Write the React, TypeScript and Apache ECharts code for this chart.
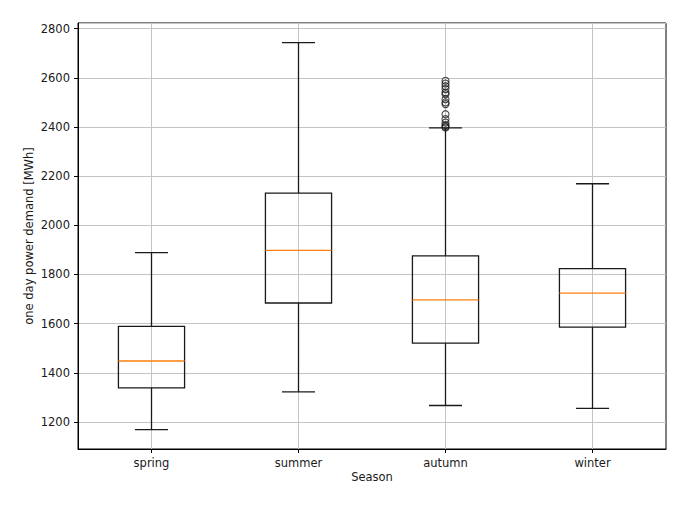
import React, { useEffect, useRef } from "react";
import * as echarts from "echarts";

const categories = ["spring", "summer", "autumn", "winter"];
const whiskerLow = [1169, 1322, 1267, 1255];
const q1 = [1339, 1684, 1521, 1586];
const median = [1448, 1898, 1697, 1724];
const q3 = [1589, 2131, 1876, 1824];
const whiskerHigh = [1889, 2743, 2396, 2169];
const autumnOutliers = [2588, 2577, 2566, 2554, 2540, 2533, 2513, 2500, 2493, 2452, 2432, 2418, 2408, 2402, 2398];

const FONT = "DejaVu Sans";
const TEXT = "#1a1a1a";
const FS = 11.5;

export default function App() {
  const ref = useRef<HTMLDivElement>(null);
  useEffect(() => {
    if (!ref.current) return;
    const chart = echarts.init(ref.current, undefined, { renderer: "svg" });
    const boxData = categories.map((c, i) => [i, whiskerLow[i], q1[i], median[i], q3[i], whiskerHigh[i]]);
    const gridData = categories.map((c, i) => [i, 2000]);
    const st = { stroke: "#1a1a1a", lineWidth: 1.3, fill: "none" };
    chart.setOption({
      animation: false,
      grid: {
        left: 78,
        right: 23,
        top: 23,
        bottom: 58,
        show: true,
        borderColor: "#000",
        borderWidth: 1,
        backgroundColor: "transparent",
      },
      xAxis: {
        type: "category",
        data: categories,
        name: "Season",
        nameLocation: "middle",
        nameGap: 22,
        nameMoveOverlap: false,
        nameTextStyle: { fontFamily: FONT, fontSize: FS, color: TEXT },
        axisLine: { show: true, lineStyle: { color: "#000", width: 1 } },
        axisTick: { show: true, alignWithLabel: true, length: 4, lineStyle: { color: "#000" } },
        axisLabel: { fontFamily: FONT, fontSize: FS, color: TEXT, margin: 8 },
        splitLine: { show: false },
      },
      yAxis: {
        type: "value",
        min: 1090,
        max: 2823,
        splitNumber: 8,
        name: "one day power demand [MWh]",
        nameLocation: "middle",
        nameGap: 43,
        nameMoveOverlap: false,
        nameTextStyle: { fontFamily: FONT, fontSize: FS, color: TEXT },
        axisLine: { show: true, lineStyle: { color: "#000", width: 1 } },
        axisTick: { show: true, length: 4, lineStyle: { color: "#000" } },
        axisLabel: {
          fontFamily: FONT,
          fontSize: FS,
          color: TEXT,
          margin: 8,
          showMinLabel: false,
          showMaxLabel: false,
          formatter: (v: number) => String(Math.round(v)),
        },
        splitLine: { show: true, lineStyle: { color: "#c4c4c4", width: 1 } },
      },
      series: [
        {
          type: "custom",
          z: 1,
          silent: true,
          data: gridData,
          encode: { x: 0, y: 1 },
          renderItem: (params: any, api: any) => {
            const x = api.coord([api.value(0), api.value(1)])[0];
            const cs = params.coordSys;
            return {
              type: "line",
              shape: { x1: x, y1: cs.y, x2: x, y2: cs.y + cs.height },
              style: { stroke: "#c4c4c4", lineWidth: 1 },
            };
          },
        },
        {
          type: "custom",
          z: 3,
          data: boxData,
          encode: { x: 0, y: [1, 2, 3, 4, 5] },
          renderItem: (params: any, api: any) => {
            const i = api.value(0);
            const lo = api.coord([i, api.value(1)]);
            const b1 = api.coord([i, api.value(2)]);
            const m = api.coord([i, api.value(3)]);
            const b3 = api.coord([i, api.value(4)]);
            const hi = api.coord([i, api.value(5)]);
            const band = api.size([1, 0])[0];
            const w = band * 0.45;
            const cw = w / 2;
            const x = lo[0];
            return {
              type: "group",
              children: [
                { type: "line", shape: { x1: x, y1: lo[1], x2: x, y2: b1[1] }, style: st },
                { type: "line", shape: { x1: x, y1: b3[1], x2: x, y2: hi[1] }, style: st },
                { type: "line", shape: { x1: x - cw / 2, y1: lo[1], x2: x + cw / 2, y2: lo[1] }, style: st },
                { type: "line", shape: { x1: x - cw / 2, y1: hi[1], x2: x + cw / 2, y2: hi[1] }, style: st },
                { type: "rect", shape: { x: x - w / 2, y: b3[1], width: w, height: b1[1] - b3[1] }, style: st },
                { type: "line", shape: { x1: x - w / 2, y1: m[1], x2: x + w / 2, y2: m[1] }, style: { stroke: "#ff7f0e", lineWidth: 1.3 } },
              ],
            };
          },
        },
        {
          type: "scatter",
          z: 4,
          data: autumnOutliers.map((v) => ["autumn", v]),
          symbol: "circle",
          symbolSize: 7,
          itemStyle: { color: "rgba(0,0,0,0)", borderColor: "#1a1a1a", borderWidth: 1.1 },
        },
      ],
    });
    return () => chart.dispose();
  }, []);
  return <div ref={ref} style={{ position: "absolute", left: 0, top: 0, width: 689, height: 507 }} />;
}
